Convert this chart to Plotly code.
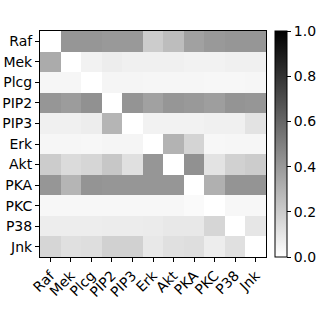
import plotly.graph_objects as go

labels = ["Raf", "Mek", "Plcg", "PIP2", "PIP3", "Erk", "Akt", "PKA", "PKC", "P38", "Jnk"]

row_raf  = [0.00, 0.41, 0.41, 0.40, 0.40, 0.20, 0.26, 0.37, 0.40, 0.41, 0.41]
row_mek  = [0.33, 0.00, 0.05, 0.07, 0.06, 0.06, 0.06, 0.05, 0.05, 0.06, 0.06]
row_plcg = [0.035, 0.035, 0.00, 0.04, 0.04, 0.035, 0.035, 0.035, 0.03, 0.03, 0.035]
row_pip2 = [0.41, 0.39, 0.43, 0.00, 0.42, 0.37, 0.41, 0.40, 0.38, 0.42, 0.41]
row_pip3 = [0.06, 0.06, 0.07, 0.29, 0.00, 0.05, 0.05, 0.05, 0.06, 0.06, 0.11]
row_erk  = [0.035, 0.035, 0.03, 0.04, 0.04, 0.00, 0.30, 0.17, 0.03, 0.035, 0.035]
row_akt  = [0.20, 0.14, 0.16, 0.22, 0.12, 0.41, 0.00, 0.43, 0.11, 0.18, 0.20]
row_pka  = [0.41, 0.29, 0.42, 0.41, 0.41, 0.41, 0.41, 0.00, 0.31, 0.42, 0.42]
row_pkc  = [0.03, 0.03, 0.03, 0.03, 0.03, 0.03, 0.03, 0.02, 0.00, 0.03, 0.03]
row_p38  = [0.07, 0.07, 0.07, 0.075, 0.075, 0.08, 0.09, 0.09, 0.16, 0.00, 0.10]
row_jnk  = [0.16, 0.12, 0.13, 0.18, 0.18, 0.09, 0.12, 0.13, 0.07, 0.12, 0.00]

z = [row_raf, row_mek, row_plcg, row_pip2, row_pip3, row_erk,
     row_akt, row_pka, row_pkc, row_p38, row_jnk]

font = dict(family="DejaVu Sans", size=14, color="black")

fig = go.Figure(go.Heatmap(
    z=z, x=labels, y=labels,
    colorscale=[[0, "white"], [1, "black"]],
    zmin=0, zmax=1,
    colorbar=dict(
        x=275 / 319, xanchor="left", xref="container",
        y=0.5, yanchor="middle", len=1.0, lenmode="fraction",
        thickness=12, outlinecolor="black", outlinewidth=1,
        xpad=0, ypad=0,
        ticks="outside", ticklen=4, tickcolor="black",
        tickvals=[0, 0.2, 0.4, 0.6, 0.8, 1.0], tickformat=".1f",
        tickfont=font,
    ),
))

fig.update_layout(
    width=319, height=319,
    margin=dict(l=40, r=53, t=31, b=62, autoexpand=False),
    paper_bgcolor="white", plot_bgcolor="white",
    font=font,
)
fig.update_xaxes(
    tickangle=-45, ticks="outside", ticklen=4, tickcolor="black",
    showline=True, linecolor="black", linewidth=1, mirror=True,
    showgrid=False, zeroline=False, tickfont=font, automargin=False,
)
fig.update_yaxes(
    autorange="reversed", ticks="outside", ticklen=4, tickcolor="black",
    showline=True, linecolor="black", linewidth=1, mirror=True,
    showgrid=False, zeroline=False, tickfont=font, automargin=False,
)

fig.write_html(
    "out.html",
    config={"displayModeBar": False},
    post_script="document.body.style.margin='0';document.body.style.overflow='hidden';",
)
